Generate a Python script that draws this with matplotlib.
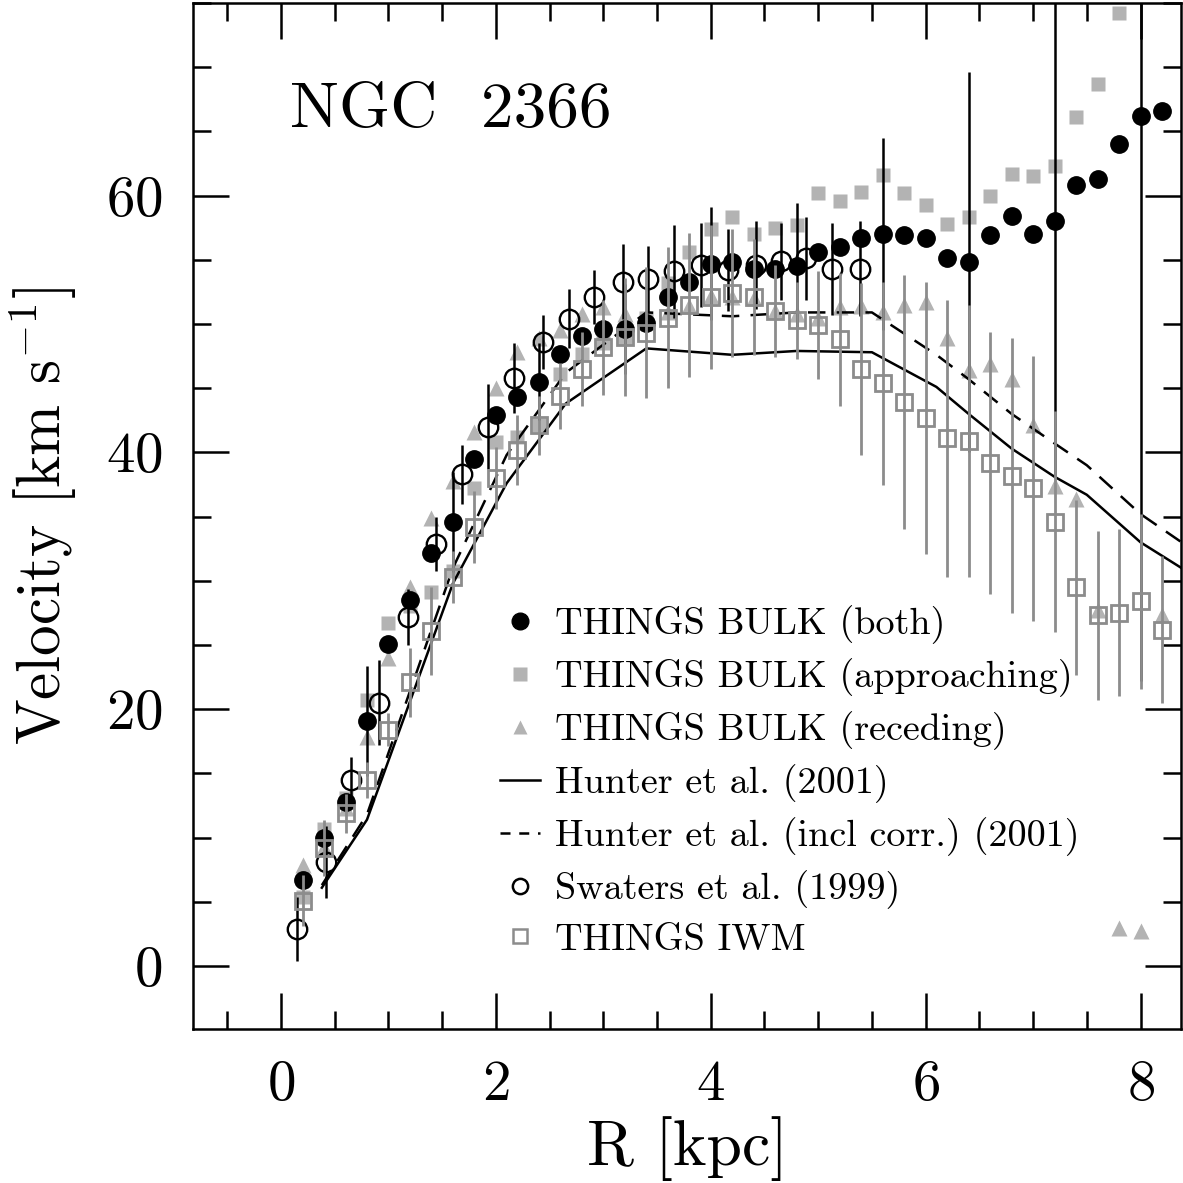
import numpy as np
import matplotlib
matplotlib.use("Agg")
import matplotlib.pyplot as plt
from matplotlib.lines import Line2D
from matplotlib.ticker import MultipleLocator

plt.rcParams['font.family'] = 'cmr10'
plt.rcParams['mathtext.fontset'] = 'cm'
plt.rcParams['axes.formatter.use_mathtext'] = True
plt.rcParams['axes.unicode_minus'] = False

# THINGS BULK (both)
r_both = [0.2, 0.4, 0.6, 0.8, 1.0, 1.2, 1.4, 1.6, 1.8, 2.0, 2.2, 2.4, 2.6, 2.8,
          3.0, 3.2, 3.4, 3.6, 3.8, 4.0, 4.2, 4.4, 4.6, 4.8, 5.0, 5.2, 5.4, 5.6,
          5.8, 6.0, 6.2, 6.4, 6.6, 6.8, 7.0, 7.2, 7.4, 7.6, 7.8, 8.0, 8.2]
v_both = [6.7, 10.0, 12.8, 19.1, 25.1, 28.5, 32.2, 34.6, 39.5, 42.9, 44.3, 45.5,
          47.7, 49.1, 49.6, 49.6, 50.1, 52.1, 53.3, 54.7, 54.8, 54.3, 54.3, 54.5,
          55.6, 56.0, 56.7, 57.0, 56.9, 56.7, 55.1, 54.8, 56.9, 58.4, 57.0, 58.0,
          60.8, 61.3, 64.0, 66.2, 66.6]
e_both = [0, 0, 0, 4.3, 0, 0, 0, 3.9, 0, 0, 0, 3.0, 0, 0, 0, 3.5, 0, 0, 0, 4.4,
          0, 0, 0, 4.9, 0, 0, 0, 7.5, 0, 0, 0, 14.8, 0, 0, 0, 20.0, 0, 0, 0, 44.0, 0]

# THINGS BULK (approaching)
r_app = r_both[:39]
v_app = [5.4, 10.7, 13.1, 20.7, 26.7, 28.0, 29.1, 30.8, 37.2, 40.8, 41.2, 42.1,
         46.1, 47.7, 48.5, 48.9, 50.5, 53.2, 55.6, 57.4, 58.3, 57.0, 57.5, 57.7,
         60.2, 59.6, 60.3, 61.6, 60.2, 59.3, 57.8, 58.3, 60.0, 61.7, 61.5, 62.3,
         66.1, 68.7, 74.2]

# THINGS BULK (receding)
r_rec = r_both
v_rec = [7.9, 9.3, 12.3, 17.8, 24.0, 29.5, 34.9, 37.8, 41.6, 45.0, 47.8, 48.9,
         49.5, 50.8, 51.3, 50.8, 50.6, 50.9, 51.4, 52.2, 52.1, 52.0, 51.0, 50.8,
         50.5, 51.3, 51.4, 50.9, 51.5, 51.7, 48.9, 46.4, 46.9, 45.7, 42.1, 37.4,
         36.4, 27.7, 3.0, 2.7, 27.3]

# Hunter et al. (2001), plain and inclination corrected
r_hun = [0.38, 0.8, 1.6, 2.1, 2.65, 3.4, 4.2, 4.8, 5.5, 6.1, 6.4, 6.8, 7.2, 7.5, 8.0, 8.4]
v_hun = [6.1, 11.4, 29.8, 37.6, 43.8, 48.1, 47.6, 47.9, 47.8, 45.1, 43.0, 40.3,
         38.1, 36.7, 33.0, 30.9]
v_hun_corr = [6.3, 11.8, 31.0, 39.8, 46.2, 50.9, 50.6, 50.9, 50.9, 47.6, 45.7,
              43.0, 40.7, 39.0, 35.2, 32.9]

# Swaters et al. (1999)
r_swa = [0.15, 0.42, 0.65, 0.91, 1.18, 1.44, 1.68, 1.93, 2.17, 2.44, 2.68, 2.91,
         3.18, 3.42, 3.66, 3.91, 4.16, 4.42, 4.65, 4.89, 5.13, 5.39]
v_swa = [2.9, 8.1, 14.5, 20.5, 27.2, 32.9, 38.3, 42.0, 45.8, 48.6, 50.4, 52.1,
         53.3, 53.5, 54.1, 54.6, 54.2, 54.6, 54.9, 55.1, 54.3, 54.3]
e_swa = [2.5, 2.8, 1.8, 3.3, 2.2, 2.1, 2.3, 3.3, 2.7, 2.1, 2.3, 2.1, 2.9, 2.6,
         3.6, 3.3, 3.2, 3.4, 3.0, 3.2, 3.6, 3.7]

# THINGS IWM
r_iwm = r_both
v_iwm = [5.1, 9.2, 11.9, 14.5, 18.4, 22.1, 26.1, 30.3, 34.2, 38.0, 40.2, 42.1,
         44.4, 46.5, 48.2, 49.0, 49.3, 50.5, 51.5, 52.1, 52.4, 52.1, 51.0, 50.3,
         49.9, 48.8, 46.5, 45.4, 43.9, 42.7, 41.1, 40.9, 39.2, 38.2, 37.2, 34.6,
         29.5, 27.3, 27.5, 28.4, 26.2]
e_iwm = [2.0, 2.2, 1.5, 1.4, 1.3, 2.7, 3.4, 2.0, 2.8, 2.4, 2.7, 2.3, 2.6, 2.9,
         3.7, 4.6, 5.1, 5.5, 5.6, 5.6, 5.0, 4.5, 3.6, 3.0, 4.2, 5.2, 6.7, 7.9, 9.9,
         10.6, 10.8, 10.6, 10.2, 10.7, 10.3, 8.6, 6.8, 6.6, 6.5, 6.8, 5.7]

lgray = '#b3b3b3'
dgray = '#8c8c8c'

fig = plt.figure(figsize=(11.83, 11.83), dpi=100)
ax = fig.add_axes([0.1631, 0.1302, 0.8355, 0.8673])

ax.plot(r_app, v_app, 's', color=lgray, ms=9.5, mec='none', zorder=2)
ax.plot(r_rec, v_rec, '^', color=lgray, ms=11, mec='none', zorder=2)
ax.errorbar(r_both, v_both, yerr=e_both, fmt='o', color='k', ms=12.5,
            elinewidth=1.8, capsize=0, zorder=3)
ax.errorbar(r_swa, v_swa, yerr=e_swa, fmt='o', mfc='none', mec='k', mew=1.7,
            color='k', ms=14, elinewidth=1.8, capsize=0, zorder=4)
ax.plot(r_hun, v_hun, '-', color='k', lw=1.8, zorder=4)
ax.plot(r_hun, v_hun_corr, '--', color='k', lw=1.8, dashes=(7, 4.5), zorder=4)
ax.errorbar(r_iwm, v_iwm, yerr=e_iwm, fmt='s', mfc='none', mec=dgray, mew=2.0,
            color=dgray, ms=11, elinewidth=2.0, capsize=0, zorder=5)

ax.set_xlim(-0.82, 8.38)
ax.set_ylim(-4.9, 75)
ax.xaxis.set_major_locator(MultipleLocator(2))
ax.xaxis.set_minor_locator(MultipleLocator(0.5))
ax.yaxis.set_major_locator(MultipleLocator(20))
ax.yaxis.set_minor_locator(MultipleLocator(5))
ax.tick_params(which='both', direction='in', top=True, right=True, width=1.8,
               labelsize=41, pad=22)
ax.tick_params(which='major', length=26)
ax.tick_params(which='minor', length=13)
for s in ax.spines.values():
    s.set_linewidth(1.8)

ax.set_xlabel('R [kpc]', fontsize=46)
ax.set_ylabel('Velocity [km s$^{-1}$]', fontsize=44)
ax.xaxis.set_label_coords(0.5, -0.085)
ax.yaxis.set_label_coords(-0.115, 0.5)

ax.text(0.098, 0.879, 'NGC  2366', transform=ax.transAxes, fontsize=47,
        va='baseline', ha='left')

handles = [
    Line2D([], [], ls='none', marker='o', color='k', ms=12),
    Line2D([], [], ls='none', marker='s', color=lgray, mec='none', ms=9.5),
    Line2D([], [], ls='none', marker='^', color=lgray, mec='none', ms=10.5),
    Line2D([], [], ls='-', color='k', lw=1.8),
    Line2D([], [], ls='--', color='k', lw=1.8, dashes=(4, 3.5)),
    Line2D([], [], ls='none', marker='o', mfc='none', mec='k', mew=1.8, ms=11),
    Line2D([], [], ls='none', marker='s', mfc='none', mec=dgray, mew=1.8, ms=10),
]
labels = ['THINGS BULK (both)', 'THINGS BULK (approaching)',
          'THINGS BULK (receding)', 'Hunter et al. (2001)',
          'Hunter et al. (incl corr.) (2001)', 'Swaters et al. (1999)',
          'THINGS IWM']
ax.legend(handles, labels, loc='upper left', bbox_to_anchor=(0.311, 0.413),
          frameon=False, fontsize=27.5, handlelength=1.05, handletextpad=0.39,
          labelspacing=0.37, borderpad=0, borderaxespad=0)

fig.savefig('out.png', dpi=100)
